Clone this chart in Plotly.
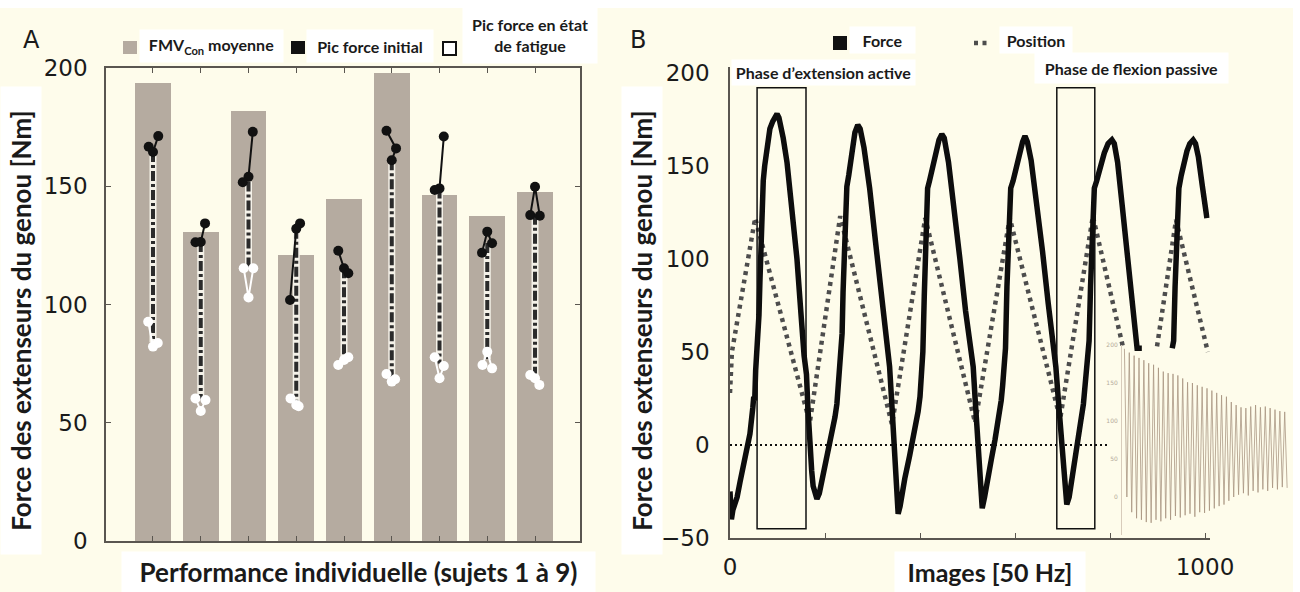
import plotly.graph_objects as go

W, H = 1300, 592

# ---------------- Panel A data ----------------
subjects = [1, 2, 3, 4, 5, 6, 7, 8, 9]
fmv_con_mean = [193.5, 130.5, 182.0, 121.0, 144.6, 198.0, 146.4, 137.5, 147.7]

init_peak_vals = [[166.7, 164.5, 171.2], [126.3, 126.4, 134.3], [173.0, 154.0, 151.7],
                  [134.3, 132.0, 101.9], [122.7, 115.3, 113.2], [173.5, 166.0, 161.0],
                  [171.0, 149.1, 148.4], [121.9, 130.8, 125.9], [137.8, 149.8, 137.5]]
init_peak_dx = [[-0.09, 0, 0.11], [-0.11, 0, 0.09], [0.09, 0, -0.12],
                [0.08, 0, -0.13], [-0.12, 0, 0.09], [-0.11, 0.09, 0],
                [0.09, 0, -0.10], [-0.11, 0, 0.10], [-0.10, 0, 0.10]]
fatigue_peak_vals = [[92.7, 82.2, 83.7], [60.3, 55.0, 59.6], [115.3, 103.0, 115.3],
                     [60.3, 57.5, 57.0], [74.4, 76.5, 77.7], [70.6, 67.4, 68.4],
                     [77.7, 68.8, 74.0], [74.4, 80.0, 73.0], [70.2, 68.8, 66.0]]
fatigue_peak_dx = [[-0.10, 0, 0.10], [-0.11, 0, 0.10], [-0.10, 0, 0.10],
                   [-0.12, 0, 0.05], [-0.12, 0, 0.09], [-0.11, 0, 0.07],
                   [-0.10, 0, 0.09], [-0.10, 0, 0.10], [-0.10, 0, 0.09]]
dash_top = [164.5, 126.4, 152.0, 132.0, 115.3, 161.0, 149.0, 126.0, 138.0]
dash_bot = [84.0, 60.0, 115.0, 58.0, 77.0, 68.0, 75.0, 77.0, 68.0]
yticks_A = [0, 50, 100, 150, 200]

# ---------------- Panel B data ----------------
force_pts = [
    (0, -25), (1, -36), (3, -40), (6, -35), (10, -32), (15, -28), (21, -20), (27, -13), (34, -3),
    (42, 6), (48, 20), (50, 26), (52, 24), (54, 40), (56, 48), (58, 51), (61, 70), (63, 88), (66, 125),
    (68, 140), (70, 142), (73, 150), (78, 160), (84, 170), (90, 174), (96, 177), (99, 178), (103, 176),
    (107, 172), (112, 165), (120, 152), (130, 127), (141, 100), (149, 72), (152, 58), (154, 53),
    (156, 48), (158, 44), (161, 38), (164, 20), (168, -3), (172, -14), (175, -22), (179, -26), (183, -29),
    (188, -26), (194, -19), (204, -6), (215, 6), (221, 15), (225, 22), (228, 32), (230, 38), (232, 42),
    (234, 50), (236, 60), (238, 82), (242, 118), (246, 139), (250, 145), (255, 155), (259, 160),
    (263, 168), (269, 172),
    (274, 170), (282, 160), (294, 138), (306, 110), (318, 82), (328, 60), (331, 53), (333, 48), (336, 42),
    (340, 25), (345, 5), (348, -10), (351, -25), (354, -37),
    (358, -33), (362, -26), (368, -18), (378, -6), (388, 6), (396, 18), (400, 26), (402, 32), (404, 44),
    (406, 50), (409, 80), (412, 115), (416, 138), (420, 142), (427, 150), (434, 158), (440, 164), (446, 167),
    (451, 165), (460, 152), (472, 128), (484, 100), (496, 72), (504, 58), (507, 52), (509, 48), (512, 42),
    (516, 25), (520, 8), (524, -10), (528, -26), (531, -34),
    (536, -28), (542, -18), (550, -8), (558, 3), (566, 14), (571, 24), (574, 32), (576, 40), (578, 46),
    (580, 52), (583, 85), (587, 118), (591, 138), (596, 142), (603, 150), (610, 158), (616, 163), (621, 166),
    (626, 163), (634, 153), (646, 130), (658, 104), (670, 76), (678, 60), (681, 53), (683, 48), (686, 42),
    (691, 25), (696, 8), (700, -10), (705, -25), (709, -32),
    (714, -28), (718, -22), (724, -12), (731, 0), (738, 12), (744, 22), (747, 30), (749, 36), (751, 44),
    (753, 50), (756, 56), (759, 85), (763, 120), (767, 138), (772, 142), (780, 150), (788, 157),
    (796, 162), (804, 164),
    (809, 162), (816, 152), (826, 128), (838, 100), (848, 75), (854, 58), (857, 52), (867, 52),
    (None, None),
    (931, 52), (934, 56), (937, 85), (941, 118), (945, 138), (950, 145), (956, 153), (962, 158),
    (968, 162), (975, 164), (980, 162), (986, 155), (994, 140), (1004, 122),
]
force_x = [p[0] for p in force_pts]
force_y = [p[1] for p in force_pts]

position_x = [0, 4, 53, 168, 232, 341, 411, 516, 589, 695, 764, 827, None, 899, 939, 1006]
position_y = [28, 50, 122, 12, 123, 11, 122, 12, 122, 14, 123, 53, None, 53, 121, 50]

zero_line_x = [0, 794]
zero_line_y = [0, 0]

phase_windows = [(57, 160), (688, 768)]
phase_box_y = (-45, 192)

yticks_B = [-50, 0, 50, 100, 150, 200]
xticks_B = [0, 1000]
xticks_B_minor = [200, 400, 600, 800]

# inset: per-cycle peak / trough values of the long recording
inset_peaks = [195, 190, 186, 183, 180, 176, 174, 170, 165, 163, 162, 160, 156, 151, 150, 147, 145,
               143, 140, 137, 134, 132, 125, 121, 118, 117, 119, 121, 118, 119, 117, 115, 113, 112]
inset_troughs = [0, -20, -28, -30, -33, -34, -30, -32, -28, -30, -25, -27, -24, -22, -26, -20, -21,
                 -18, -15, -12, -10, -5, 0, 3, 5, 2, 8, 6, 10, 8, 12, 10, 13, 12]
inset_yticks = [0, 50, 100, 150, 200]

# ---------------- helpers ----------------
def px(x):
    return x / W


def py(y):
    return 1 - y / H


CREAM = "#FEFCEB"
BAR = "#B5ABA0"
TXT = "#1a1a1a"
TITLE_FONT = "Lato"
NUM_FONT = "DejaVu Sans"

fig = go.Figure()

# ---- Panel A ----
fig.add_trace(go.Bar(x=subjects, y=fmv_con_mean, width=0.75, marker=dict(color=BAR, line=dict(width=0)),
                     xaxis="x", yaxis="y", showlegend=False, hoverinfo="skip"))

dx_line, dy_line = [], []
for s, t, b in zip(subjects, dash_top, dash_bot):
    dx_line += [s, s, None]
    dy_line += [t, b, None]
fig.add_trace(go.Scatter(x=dx_line, y=dy_line, mode="lines", line=dict(color="#F4F1E8", width=7),
                         xaxis="x", yaxis="y", showlegend=False, hoverinfo="skip"))
fig.add_trace(go.Scatter(x=dx_line, y=dy_line, mode="lines",
                         line=dict(color="#2b2b2b", width=4, dash="10px,3px,3px,3px"),
                         xaxis="x", yaxis="y", showlegend=False, hoverinfo="skip"))

fx, fy = [], []
for s, vals, dxs in zip(subjects, fatigue_peak_vals, fatigue_peak_dx):
    fx += [s + d for d in dxs] + [None]
    fy += vals + [None]
fig.add_trace(go.Scatter(x=fx, y=fy, mode="lines+markers", line=dict(color="white", width=2),
                         marker=dict(color="white", size=10), xaxis="x", yaxis="y",
                         showlegend=False, hoverinfo="skip"))

ix, iy = [], []
for s, vals, dxs in zip(subjects, init_peak_vals, init_peak_dx):
    ix += [s + d for d in dxs] + [None]
    iy += vals + [None]
fig.add_trace(go.Scatter(x=ix, y=iy, mode="lines+markers", line=dict(color="#111", width=2),
                         marker=dict(color="#111", size=10), xaxis="x", yaxis="y",
                         showlegend=False, hoverinfo="skip"))

# ---- Panel B ----
fig.add_trace(go.Scatter(x=zero_line_x, y=zero_line_y, mode="lines",
                         line=dict(color="#111", width=2.2, dash="2px,3px"),
                         xaxis="x2", yaxis="y2", showlegend=False, hoverinfo="skip"))
fig.add_trace(go.Scatter(x=position_x, y=position_y, mode="lines",
                         line=dict(color="#4d4d4d", width=4.5, dash="4px,4.5px"),
                         xaxis="x2", yaxis="y2", showlegend=False, hoverinfo="skip"))
fig.add_trace(go.Scatter(x=force_x, y=force_y, mode="lines",
                         line=dict(color="#0d0d0d", width=5.5),
                         xaxis="x2", yaxis="y2", showlegend=False, hoverinfo="skip"))

inx, iny = [], []
for i, (pk, tr) in enumerate(zip(inset_peaks, inset_troughs)):
    inx += [i, i + 0.5]
    iny += [pk, tr]
fig.add_trace(go.Scatter(x=inx, y=iny, mode="lines", line=dict(color="rgba(165,145,125,0.75)", width=1),
                         xaxis="x3", yaxis="y3", showlegend=False, hoverinfo="skip"))

# ---- shapes ----
shapes = [
    dict(type="rect", xref="paper", yref="paper", x0=0, x1=px(1293), y0=py(592), y1=py(8),
         fillcolor=CREAM, line=dict(width=0), layer="below"),
]
for (a, b) in phase_windows:
    shapes.append(dict(type="rect", xref="x2", yref="y2", x0=a, x1=b, y0=phase_box_y[0], y1=phase_box_y[1],
                       line=dict(color="#111", width=1.5), fillcolor="rgba(0,0,0,0)"))
# legend A symbols
shapes.append(dict(type="rect", xref="paper", yref="paper", x0=px(123), x1=px(137), y0=py(54), y1=py(41),
                   fillcolor=BAR, line=dict(width=0)))
shapes.append(dict(type="rect", xref="paper", yref="paper", x0=px(291), x1=px(305), y0=py(54), y1=py(41),
                   fillcolor="#111", line=dict(width=0)))
shapes.append(dict(type="rect", xref="paper", yref="paper", x0=px(443), x1=px(456), y0=py(55), y1=py(42),
                   fillcolor="white", line=dict(color="#111", width=2)))
# legend B symbols
shapes.append(dict(type="rect", xref="paper", yref="paper", x0=px(833), x1=px(847), y0=py(50), y1=py(36),
                   fillcolor="#111", line=dict(width=0)))
shapes.append(dict(type="line", xref="paper", yref="paper", x0=px(974), x1=px(988), y0=py(43), y1=py(43),
                   line=dict(color="#4d4d4d", width=4.5, dash="4px,4.5px")))


def box(text, cx, cy, w, h, size, bold=True, angle=0, font=TITLE_FONT):
    t = f"<b>{text}</b>" if bold else text
    return dict(text=t, xref="paper", yref="paper", x=px(cx), y=py(cy), xanchor="center", yanchor="middle",
                showarrow=False, bgcolor="white", width=w, height=h, borderpad=0, textangle=angle,
                font=dict(family=font, size=size, color=TXT), align="center", valign="middle")


annotations = [
    dict(text="A", xref="paper", yref="paper", x=px(21), y=py(24), showarrow=False,
         font=dict(family=NUM_FONT, size=24, color=TXT)),
    dict(text="B", xref="paper", yref="paper", x=px(638), y=py(24), showarrow=False,
         font=dict(family=NUM_FONT, size=24, color=TXT)),
    box("FMV<sub>Con</sub> moyenne", 211.5, 46, 143, 32, 16),
    box("Pic force initial", 370, 46, 126, 32, 16),
    box("Pic force en état<br>de fatigue", 530, 35, 134, 56, 16),
    box("Force", 882, 40, 65, 26, 16),
    box("Position", 1036, 40, 72, 26, 16),
    box("Phase d’extension active", 823.5, 72.5, 183, 25, 16),
    box("Phase de flexion passive", 1131.5, 68, 193, 30, 16),
    box("Force des extenseurs du genou [Nm]", 21, 321, 467, 40, 26, angle=-90),
    box("Force des extenseurs du genou [Nm]", 642, 321, 467, 40, 26, angle=-90),
    box("Performance individuelle (sujets 1 à 9)", 358, 572, 473, 40, 26),
    box("Images [50 Hz]", 990, 572, 190, 40, 25),
]

axis_col = "#5a5650"
fig.update_layout(
    width=W, height=H, autosize=False, margin=dict(l=0, r=0, t=0, b=0, pad=0, autoexpand=False),
    paper_bgcolor="white", plot_bgcolor="rgba(0,0,0,0)",
    shapes=shapes, annotations=annotations, bargap=0,
    xaxis=dict(domain=[px(106), px(580)], range=[0.016, 9.942], anchor="y", automargin=False,
               showline=True, mirror="allticks", linecolor=axis_col, linewidth=1.5,
               ticks="inside", tickvals=subjects, ticklen=5, tickcolor=axis_col, tickwidth=1.2,
               showticklabels=False, showgrid=False, zeroline=False),
    yaxis=dict(domain=[py(541), py(68)], range=[0, 200], anchor="x", automargin=False,
               showline=True, mirror="allticks", linecolor=axis_col, linewidth=1.5,
               ticks="inside", tickvals=yticks_A, ticklen=5, tickcolor=axis_col, tickwidth=1.2,
               tickfont=dict(family=NUM_FONT, size=23, color=TXT), ticklabelstandoff=12,
               showgrid=False, zeroline=False),
    xaxis2=dict(domain=[px(730), px(730 + 1010 * 0.475)], range=[0, 1010], anchor="y2", automargin=False,
                showline=True, linecolor=axis_col, linewidth=1.5,
                ticks="inside", tickvals=xticks_B, ticklen=5, tickcolor=axis_col,
                minor=dict(tickvals=xticks_B_minor, ticks="inside", ticklen=5, tickcolor=axis_col,
                           showgrid=False),
                tickfont=dict(family=NUM_FONT, size=23, color=TXT), ticklabelstandoff=8,
                showgrid=False, zeroline=False),
    yaxis2=dict(domain=[py(538), py(67)], range=[-50, 203.2], anchor="x2", automargin=False,
                showline=True, linecolor=axis_col, linewidth=1.5, ticks="",
                tickvals=yticks_B, tickfont=dict(family=NUM_FONT, size=23, color=TXT),
                ticklabelstandoff=14, showgrid=False, zeroline=False),
    xaxis3=dict(domain=[px(1122), px(1292)], range=[-0.5, 34.5], anchor="y3", visible=False,
                automargin=False),
    yaxis3=dict(domain=[py(535), py(345)], range=[-50, 200], anchor="x3", automargin=False,
                showline=True, linecolor="#d8ccbb", linewidth=1, ticks="",
                tickvals=inset_yticks, tickfont=dict(family=NUM_FONT, size=6, color="#b5aa9a"),
                ticklabelstandoff=2, showgrid=False, zeroline=False),
)

fig.write_html("out.html", config={"displayModeBar": False},
               post_script="document.body.style.margin='0';document.body.style.overflow='hidden';")
